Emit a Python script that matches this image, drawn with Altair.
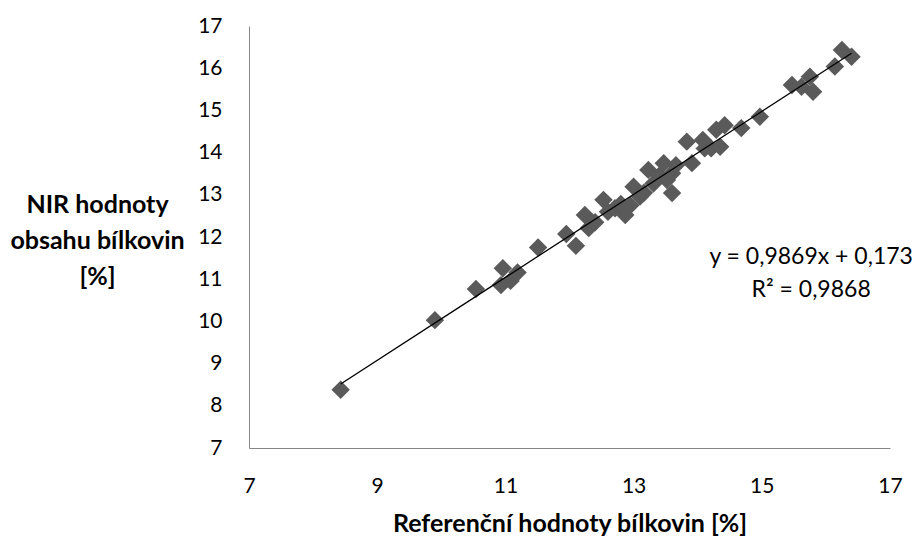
import altair as alt
import pandas as pd

ref_x = [8.43, 9.90, 10.54, 10.96, 10.93, 11.08, 11.19, 11.51, 11.95, 12.10,
         12.24, 12.30, 12.40, 12.53, 12.60, 12.71, 12.80, 12.87, 12.95, 13.00,
         13.10, 13.16, 13.23, 13.31, 13.40, 13.47, 13.52, 13.60, 13.60, 13.66,
         13.83, 13.91, 14.08, 14.11, 14.21, 14.29, 14.35, 14.42, 14.68, 14.97,
         15.47, 15.62, 15.75, 15.80, 16.14, 16.25, 16.40]
nir_y = [8.38, 10.03, 10.77, 11.26, 10.86, 10.96, 11.16, 11.75, 12.07, 11.79,
         12.52, 12.21, 12.35, 12.88, 12.60, 12.68, 12.78, 12.52, 12.75, 13.19,
         12.96, 13.05, 13.59, 13.27, 13.45, 13.75, 13.35, 13.51, 13.04, 13.70,
         14.26, 13.75, 14.30, 14.10, 14.10, 14.54, 14.14, 14.65, 14.58, 14.85,
         15.60, 15.56, 15.80, 15.44, 16.04, 16.43, 16.27]
x_ticks = [7, 9, 11, 13, 15, 17]
y_ticks = [7, 8, 9, 10, 11, 12, 13, 14, 15, 16, 17]
equation_lines = ["y = 0,9869x + 0,173", "R² = 0,9868"]
eq_pos = {"x": 15.77, "y": 11.52}

FONT = "Lato"
df = pd.DataFrame({"x": ref_x, "y": nir_y})

xs = alt.Scale(domain=[7, 17], nice=False, zero=False)
ys = alt.Scale(domain=[7, 17], nice=False, zero=False)

xaxis = alt.Axis(values=x_ticks, title="Referenční hodnoty bílkovin [%]",
                 format="d", labelFlush=False,
                 labelPadding=27, titlePadding=15)
yaxis = alt.Axis(values=y_ticks, format="d",
                 title=["NIR hodnoty", "obsahu bílkovin", "[%]"],
                 titleAngle=0, titleAlign="center", titleBaseline="middle",
                 titleX=-152, titleY=178, titleLineHeight=36,
                 labelPadding=27)

points = alt.Chart(df).mark_point(
    shape="diamond", filled=True, size=340, color="#5a5a5a", opacity=1
).encode(
    x=alt.X("x:Q", scale=xs, axis=xaxis),
    y=alt.Y("y:Q", scale=ys, axis=yaxis),
)

trend = alt.Chart(df).transform_regression("x", "y").mark_line(
    color="#000000", strokeWidth=1.3
).encode(x=alt.X("x:Q", scale=xs), y=alt.Y("y:Q", scale=ys))

eq_df = pd.DataFrame({"x": [eq_pos["x"]], "y": [eq_pos["y"]],
                      "t": ["\n".join(equation_lines)]})
eq = alt.Chart(eq_df).mark_text(
    font=FONT, fontSize=23, color="#000000", align="center",
    baseline="middle", lineBreak="\n", lineHeight=33
).encode(x=alt.X("x:Q", scale=xs), y=alt.Y("y:Q", scale=ys), text="t:N")

chart = alt.layer(points, trend, eq).properties(
    width=641, height=422,
    autosize=alt.AutoSizeParams(type="none"),
    padding={"left": 241, "top": 18, "right": 26, "bottom": 89},
).configure_view(stroke=None).configure_axis(
    grid=False, ticks=False, domainColor="#868686", domainWidth=1,
    labelFont=FONT, labelFontSize=21, labelColor="#000000",
    titleFont=FONT, titleFontSize=25, titleFontWeight="bold", titleColor="#000000",
)

chart.save("out.html", embed_options={"renderer": "svg", "actions": False})
